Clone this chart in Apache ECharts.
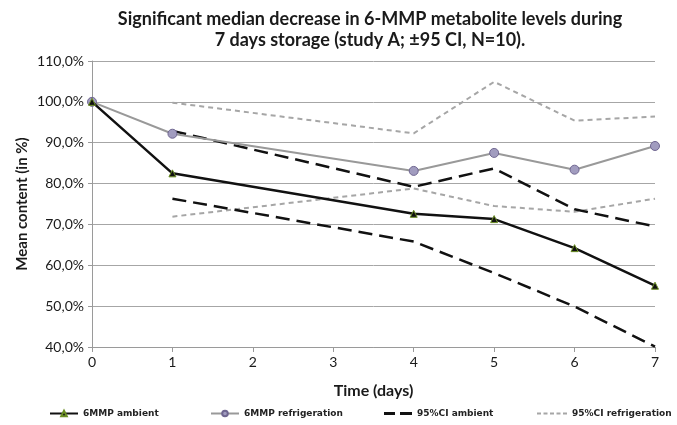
<!DOCTYPE html>
<html>
<head>
<meta charset="utf-8">
<script src="https://cdn.jsdelivr.net/npm/echarts@6/dist/echarts.min.js"></script>
<style>
  html, body { margin: 0; padding: 0; background: #fff; }
  #main { width: 677px; height: 425px; }
</style>
</head>
<body>
<div id="main"></div>
<script>
// days with measurements
const days = [0, 1, 4, 5, 6, 7];
const ambient = [100, 82.5, 72.6, 71.3, 64.2, 55.0];
const refrigeration = [100, 92.2, 83.1, 87.5, 83.4, 89.2];

// confidence intervals start at day 1
const ciDays = [1, 4, 5, 6, 7];
const ciAmbientUpper = [92.9, 79.2, 83.7, 73.7, 69.5];
const ciAmbientLower = [76.3, 65.8, 58.1, 49.9, 40.1];
const ciRefUpper = [99.8, 92.3, 104.9, 95.4, 96.4];
const ciRefLower = [71.9, 78.8, 74.5, 73.1, 76.3];

const pairs = (xs, ys) => xs.map((x, i) => [x, ys[i]]);

const font = 'Lato';
let chart = echarts.init(document.getElementById('main'));

const legendText = { fontFamily: 'DejaVu Sans', fontSize: 9, fontWeight: 'bold', color: '#222' };
function legendAt(name, left, icon, w, h) {
  let item = { name: name };
  if (icon) item.icon = icon;
  return {
    data: [item], left: left, top: 409, itemWidth: w, itemHeight: h,
    textStyle: legendText, padding: 0
  };
}

// dashed icons for the CI entries (legend would otherwise add a dot)
const dashLong = 'path://M0,0h11v3h-11z M16,0h12v3h-12z';
const dashShort = 'path://M0,0h4v2h-4z M6.5,0h4v2h-4z M13,0h4v2h-4z M19.5,0h4v2h-4z M26,0h4v2h-4z';

chart.setOption({
  animation: false,
  title: {
    text: 'Significant median decrease in 6-MMP metabolite levels during\n7 days storage (study A; \u00b195 CI, N=10).',
    left: 365, textAlign: 'center', top: 4,
    textStyle: { fontFamily: font, fontSize: 18, fontWeight: 'bold', color: '#1a1a1a', lineHeight: 21 }
  },
  legend: [
    legendAt('6MMP ambient', 49, null, 28, 7),
    legendAt('6MMP refrigeration', 210, null, 28, 7),
    legendAt('95%CI ambient', 384, dashLong, 28, 3),
    legendAt('95%CI refrigeration', 537, dashShort, 30, 2)
  ],
  grid: { left: 92, right: 22, top: 61, bottom: 78 },
  xAxis: {
    type: 'value', min: 0, max: 7, interval: 1,
    name: 'Time (days)', nameLocation: 'middle', nameGap: 36,
    nameTextStyle: { fontFamily: font, fontSize: 16, fontWeight: 'bold', color: '#1a1a1a' },
    axisLine: { lineStyle: { color: '#9a9a9a', width: 1 } },
    axisTick: { show: true, length: 5, lineStyle: { color: '#9a9a9a' } },
    axisLabel: { fontFamily: font, fontSize: 14, color: '#1a1a1a', margin: 8 },
    splitLine: { show: false }
  },
  yAxis: {
    type: 'value', min: 40, max: 110, interval: 10,
    name: 'Mean content (in %)', nameLocation: 'middle', nameGap: 62, nameRotate: 90,
    nameMoveOverlap: false,
    nameTextStyle: { fontFamily: font, fontSize: 15, fontWeight: 'bold', color: '#1a1a1a' },
    axisLine: { show: true, lineStyle: { color: '#9a9a9a', width: 1 } },
    axisTick: { show: true, length: 4, lineStyle: { color: '#9a9a9a' } },
    axisLabel: {
      fontFamily: font, fontSize: 14, color: '#1a1a1a', margin: 8,
      formatter: v => v.toFixed(1).replace('.', ',') + '%'
    },
    splitLine: { lineStyle: { color: '#a6a6a6', width: 1 } }
  },
  series: [
    {
      name: '6MMP ambient', type: 'line', data: pairs(days, ambient),
      symbol: 'triangle', symbolSize: 7,
      itemStyle: { color: '#111', borderColor: '#6b8e23', borderWidth: 1 },
      lineStyle: { color: '#111', width: 2.5 }, z: 5
    },
    {
      name: '6MMP refrigeration', type: 'line', data: pairs(days, refrigeration),
      symbol: 'circle', symbolSize: 9,
      itemStyle: { color: '#a19cbf', borderColor: '#6f6690', borderWidth: 1 },
      lineStyle: { color: '#999', width: 2 }, z: 4
    },
    {
      name: '95%CI ambient', type: 'line', data: pairs(ciDays, ciAmbientUpper),
      symbol: 'none',
      itemStyle: { color: '#111' },
      lineStyle: { color: '#111', width: 2.5, type: [14, 7] }, z: 3
    },
    {
      name: '95%CI ambient', type: 'line', data: pairs(ciDays, ciAmbientLower),
      symbol: 'none',
      itemStyle: { color: '#111' },
      lineStyle: { color: '#111', width: 2.5, type: [14, 7] }, z: 3
    },
    {
      name: '95%CI refrigeration', type: 'line', data: pairs(ciDays, ciRefUpper),
      symbol: 'none',
      itemStyle: { color: '#a6a6a6' },
      lineStyle: { color: '#a6a6a6', width: 2, type: [5, 4] }, z: 2
    },
    {
      name: '95%CI refrigeration', type: 'line', data: pairs(ciDays, ciRefLower),
      symbol: 'none',
      itemStyle: { color: '#a6a6a6' },
      lineStyle: { color: '#a6a6a6', width: 2, type: [5, 4] }, z: 2
    }
  ]
});
</script>
</body>
</html>
